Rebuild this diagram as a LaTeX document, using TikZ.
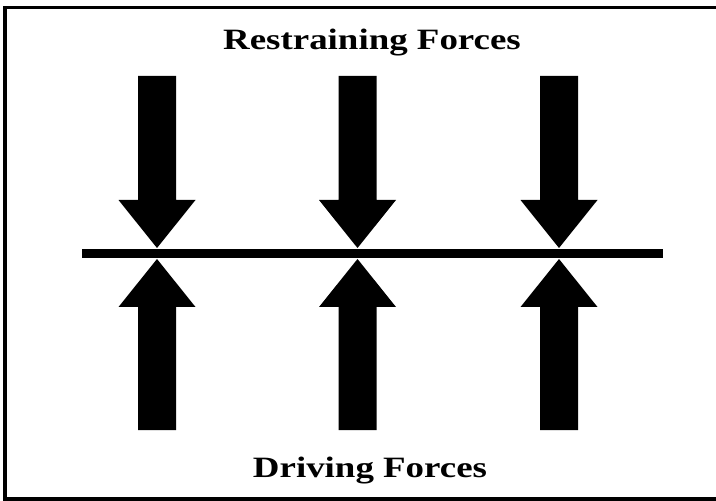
\documentclass[tikz,border=0pt]{standalone}
\usepackage{fontspec}
\setmainfont{Liberation Serif}
\usepackage{graphicx}
\usepackage{tikz}
\usetikzlibrary{calc,positioning}

\begin{document}
\begin{tikzpicture}[x=0.025cm, y=0.025cm,
		force/.style={fill=black},
		forcetitle/.style={font=\fontsize{21}{25}\selectfont\bfseries, inner sep=0pt, anchor=base}]
	\useasboundingbox (0, 0) rectangle (716, 500);

	% frame, open on the right
	\coordinate (topright) at (716, 492.5);
	\coordinate (topleft) at (5, 492.5);
	\coordinate (bottomleft) at (5, 1);
	\coordinate (bottomright) at (716, 1);
	\draw[line width=2.4pt] (topright) -- (topleft) -- (bottomleft) -- (bottomright);

	\node[forcetitle] (restraining) at (372, 450) {\scalebox{1.25}[1]{Restraining Forces}};
	\node[forcetitle] (driving) at (370, 23) {\scalebox{1.25}[1]{Driving Forces}};

	% the bar
	\coordinate (barleft) at (82, 246.5);
	\coordinate (barright) at (663, 246.5);
	\draw[line width=7pt] (barleft) -- (barright);

	% tips of the arrows on the bar
	\coordinate (downtip1) at (157, 252);
	\coordinate (downtip2) at (357.5, 252);
	\coordinate (downtip3) at (559, 252);
	\coordinate (uptip1) at (157, 241);
	\coordinate (uptip2) at (357.5, 241);
	\coordinate (uptip3) at (559, 241);

	% restraining forces
	\fill[force] ($(downtip1) + (-19, 172)$) -- ($(downtip1) + (19, 172)$) -- ($(downtip1) + (19, 48)$) -- ($(downtip1) + (38.5, 48)$)
		-- (downtip1) -- ($(downtip1) + (-38.5, 48)$) -- ($(downtip1) + (-19, 48)$) -- cycle;
	\fill[force] ($(downtip2) + (-19, 172)$) -- ($(downtip2) + (19, 172)$) -- ($(downtip2) + (19, 48)$) -- ($(downtip2) + (38.5, 48)$)
		-- (downtip2) -- ($(downtip2) + (-38.5, 48)$) -- ($(downtip2) + (-19, 48)$) -- cycle;
	\fill[force] ($(downtip3) + (-19, 172)$) -- ($(downtip3) + (19, 172)$) -- ($(downtip3) + (19, 48)$) -- ($(downtip3) + (38.5, 48)$)
		-- (downtip3) -- ($(downtip3) + (-38.5, 48)$) -- ($(downtip3) + (-19, 48)$) -- cycle;

	% driving forces
	\fill[force] ($(uptip1) + (-19, -171)$) -- ($(uptip1) + (19, -171)$) -- ($(uptip1) + (19, -48)$) -- ($(uptip1) + (38.5, -48)$)
		-- (uptip1) -- ($(uptip1) + (-38.5, -48)$) -- ($(uptip1) + (-19, -48)$) -- cycle;
	\fill[force] ($(uptip2) + (-19, -171)$) -- ($(uptip2) + (19, -171)$) -- ($(uptip2) + (19, -48)$) -- ($(uptip2) + (38.5, -48)$)
		-- (uptip2) -- ($(uptip2) + (-38.5, -48)$) -- ($(uptip2) + (-19, -48)$) -- cycle;
	\fill[force] ($(uptip3) + (-19, -171)$) -- ($(uptip3) + (19, -171)$) -- ($(uptip3) + (19, -48)$) -- ($(uptip3) + (38.5, -48)$)
		-- (uptip3) -- ($(uptip3) + (-38.5, -48)$) -- ($(uptip3) + (-19, -48)$) -- cycle;
\end{tikzpicture}
\end{document}
